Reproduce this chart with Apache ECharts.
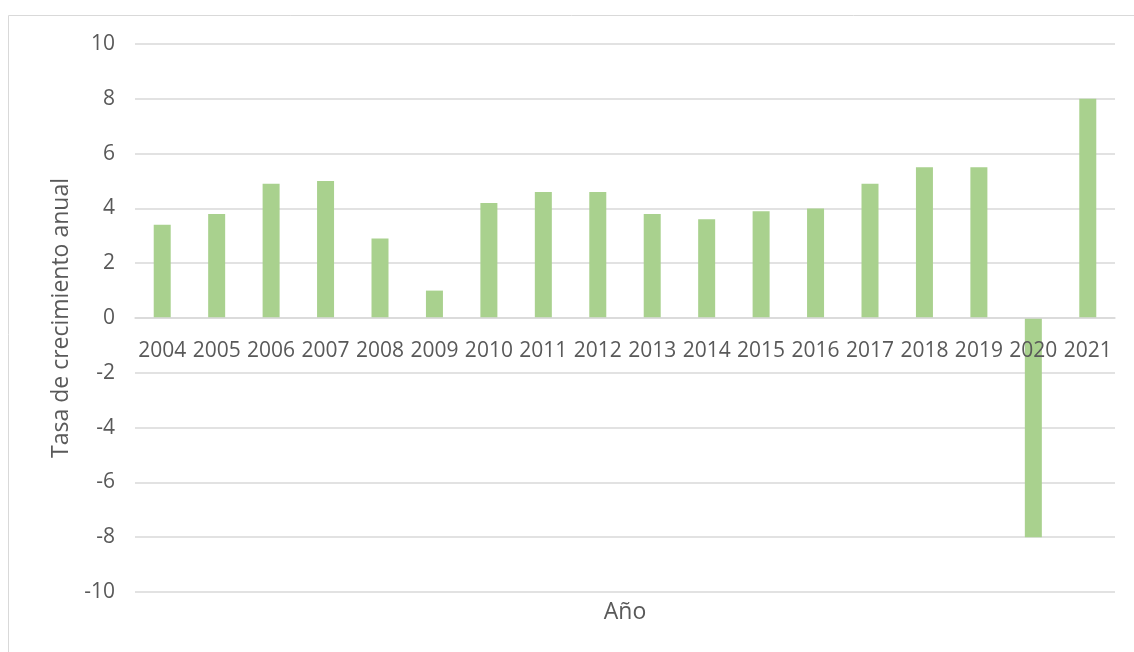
<!DOCTYPE html>
<html>
<head>
<meta charset="utf-8">
<script src="https://cdn.jsdelivr.net/npm/echarts@6/dist/echarts.min.js"></script>
<style>
    html, body { margin: 0; padding: 0; background: #fff; }
    #chart { width: 1134px; height: 652px; }
</style>
</head>
<body>
<div id="chart"></div>
<script>
// datos del gráfico
var years = ['2004', '2005', '2006', '2007', '2008', '2009', '2010', '2011', '2012',
    '2013', '2014', '2015', '2016', '2017', '2018', '2019', '2020', '2021'];
var growth = [3.4, 3.8, 4.9, 5.0, 2.9, 1.0, 4.2, 4.6, 4.6,
    3.8, 3.6, 3.9, 4.0, 4.9, 5.5, 5.5, -8.0, 8.0];

var textColor = '#595959';
var lineColor = '#D9D9D9';
var font = 'Open Sans';

// la línea del eje x va en el cero: 592 - 318 = 274 px por encima del borde inferior
var zeroOffset = -274;

var chart = echarts.init(document.getElementById('chart'));
chart.setOption({
    animation: false,
    graphic: [{
        type: 'rect',
        shape: { x: 8.5, y: 15.5, width: 1140, height: 660 },
        style: { fill: 'none', stroke: lineColor, lineWidth: 1 }
    }],
    grid: { left: 135, right: 19, top: 44, bottom: 60, outerBoundsMode: 'none', containLabel: false },
    xAxis: {
        type: 'category',
        data: years,
        offset: zeroOffset,
        z: 5,
        name: 'Año',
        nameLocation: 'middle',
        nameGap: 283,
        nameTextStyle: { color: textColor, fontSize: 23, fontFamily: font },
        axisLine: { onZero: false, lineStyle: { color: lineColor, width: 1.5 } },
        axisTick: { show: false },
        axisLabel: { color: textColor, fontSize: 21, fontFamily: font, margin: 23, interval: 0 }
    },
    yAxis: {
        type: 'value',
        min: -10,
        max: 10,
        interval: 2,
        name: 'Tasa de crecimiento anual',
        nameLocation: 'middle',
        nameGap: 58,
        nameTextStyle: { color: textColor, fontSize: 23, fontFamily: font },
        axisLine: { show: false },
        axisTick: { show: false },
        axisLabel: { color: textColor, fontSize: 21, fontFamily: font, margin: 20 },
        splitLine: { lineStyle: { color: lineColor, width: 1.5 } }
    },
    series: [{
        type: 'bar',
        data: growth,
        barWidth: 17,
        itemStyle: { color: '#A9D18E' }
    }]
});
</script>
</body>
</html>
